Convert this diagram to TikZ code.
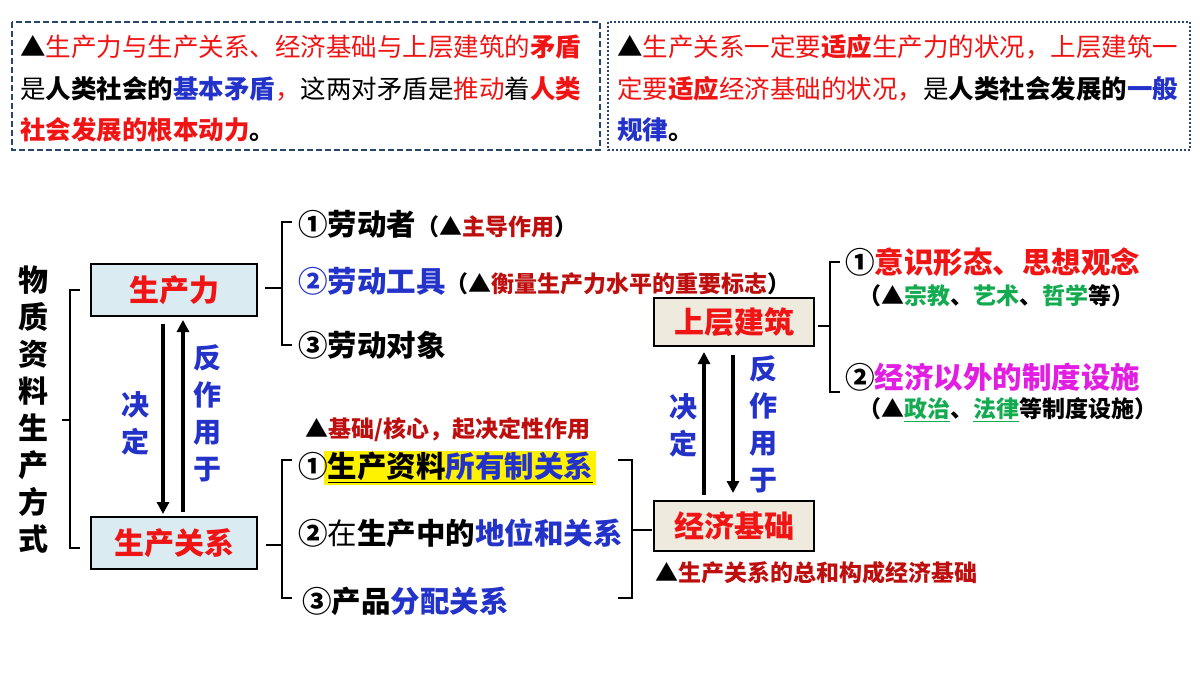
\documentclass[tikz,border=0pt]{standalone}
\usepackage{fontspec}
\setmainfont{Noto Sans CJK SC}
\usetikzlibrary{arrows.meta}
\definecolor{rr}{RGB}{240,20,20}
\definecolor{dr}{RGB}{190,15,15}
\definecolor{bb}{RGB}{35,50,200}
\definecolor{gg}{RGB}{20,170,80}
\definecolor{mm}{RGB}{225,30,225}
\definecolor{frame}{RGB}{40,70,110}
\definecolor{lb}{RGB}{218,236,242}
\definecolor{bg}{RGB}{238,234,222}
\newcommand{\fs}[1]{\fontsize{#1}{#1}\selectfont}
\begin{document}
\begin{tikzpicture}[x=1pt,y=-1pt,
  box/.style={draw=black,line width=2.5pt,minimum width=166pt,minimum height=52pt,font=\fs{30}\bfseries,text=rr},
  item/.style={anchor=west,inner sep=0pt,font=\fs{29.5}\bfseries},
  note/.style={anchor=west,inner sep=0pt,font=\fs{23}\bfseries},
  brk/.style={line width=2pt},
  big/.style={-{Triangle[length=12pt,width=12pt]},line width=4pt},
  vlab/.style={font=\fs{28}\bfseries,text=bb,align=center,inner sep=0pt}]
\useasboundingbox (0,0) rectangle (1200,675);
% top boxes
\draw[frame,line width=2pt,dash pattern=on 6pt off 3pt] (12,22) rectangle (600,150);
\draw[frame,line width=2.2pt,dash pattern=on 2pt off 2pt] (608,22) rectangle (1190,150);
\node[note,font=\fs{25.5}] (t1) at (20,47) {\textbf{▲}\textcolor{rr}{生产力与生产关系、经济基础与上层建筑的\textbf{矛盾}}};
\node[note,font=\fs{25.5}] (t2) at (20,89) {是\textbf{人类社会的}\textcolor{bb}{\textbf{基本矛盾}}\textcolor{rr}{，}这两对矛盾是\textcolor{rr}{推动}着\textcolor{rr}{\textbf{人类}}};
\node[note,font=\fs{25.5}] (t3) at (20,130) {\textcolor{rr}{\textbf{社会发展的根本动力}}\textbf{。}};
\node[note,font=\fs{25.5}] (r1) at (617,47) {\textbf{▲}\textcolor{rr}{生产关系一定要\textbf{适应}生产力的状况，上层建筑一}};
\node[note,font=\fs{25.5}] (r2) at (617,89) {\textcolor{rr}{定要\textbf{适应}经济基础的状况，}是\textbf{人类社会发展的}\textcolor{bb}{\textbf{一般}}};
\node[note,font=\fs{25.5}] (r3) at (617,130) {\textcolor{bb}{\textbf{规律}}\textbf{。}};
% left column
\node[font=\fs{30}\bfseries,align=center,inner sep=0pt] (wz) at (33,410) {物\\[7pt]质\\[7pt]资\\[7pt]料\\[7pt]生\\[7pt]产\\[7pt]方\\[7pt]式};
\coordinate (b1) at (62,420);
\draw[brk] (80,290) -- (70,290) -- (70,548) -- (80,548);
\draw[brk] (70,420) -- (b1);
\node[box,fill=lb] (scl) at (174,290) {生产力};
\node[box,fill=lb] (scgx) at (174,543) {生产关系};
\draw[big] (163,324) -- (163,514);
\draw[big] (183,512) -- (183,320);
\node[vlab] (jd1) at (135,423) {决\\[9pt]定};
\node[vlab] (fz1) at (207,413) {反\\[9pt]作\\[9pt]用\\[9pt]于};
% 生产力 items
\draw[brk] (292,222) -- (282,222) -- (282,345) -- (292,345);
\draw[brk] (282,288) -- (265,288);
\node[item] (a1) at (298,224) {①劳动者{\fs{23}（▲\textcolor{dr}{主导作用}）}};
\node[item] (a2) at (298,281) {\textcolor{bb}{②劳动工具}{\fs{23}（▲\textcolor{dr}{衡量生产力水平的重要标志}）}};
\node[item] (a3) at (298,345) {③劳动对象};
% 生产关系 items
\node[note,text=dr] (jc) at (305,430) {\textcolor{black}{▲}基础/核心，起决定性作用};
\draw[brk] (292,460) -- (282,460) -- (282,598) -- (292,598);
\draw[brk] (282,545) -- (266,545);
\fill[yellow] (324,451) rectangle (596,485);
\node[item] (c1) at (298,467) {①\underline{生产资料\textcolor{bb}{所有制关系}}};
\node[item] (c2) at (298,533) {②{\mdseries 在}生产中的\textcolor{bb}{地位和关系}};
\node[item] (c3) at (302,601) {③产品\textcolor{bb}{分配关系}};
\draw[brk] (618,460) -- (632,460) -- (632,598) -- (618,598);
\draw[brk] (632,530) -- (652,530);
% right column
\node[box,fill=bg,minimum width=160pt,minimum height=50pt] (jjjc) at (734,526) {经济基础};
\node[box,fill=bg,minimum width=160pt,minimum height=48pt] (scjz) at (734,322) {上层建筑};
\draw[big] (704,495) -- (704,352);
\draw[big] (733,355) -- (733,493);
\node[vlab] (jd2) at (683,425) {决\\[9pt]定};
\node[vlab] (fz2) at (763,424) {反\\[9pt]作\\[9pt]用\\[9pt]于};
\node[note,text=dr] (zh) at (655,573) {\textcolor{black}{▲}生产关系的总和构成经济基础};
\draw[brk] (840,262) -- (830,262) -- (830,392) -- (840,392);
\draw[brk] (830,326) -- (818,326);
\node[item] (s1) at (845,262) {①\textcolor{rr}{意识形态、思想观念}};
\node[note] (s1b) at (858,296) {（▲\textcolor{gg}{宗教}、\textcolor{gg}{艺术}、\textcolor{gg}{哲学}等）};
\node[item] (s2) at (845,377) {②\textcolor{mm}{经济以外的制度设施}};
\node[note] (s2b) at (858,410) {（▲\textcolor{gg}{\underline{政治}}、\textcolor{gg}{\underline{法律}}等制度设施）};
\end{tikzpicture}
\end{document}
